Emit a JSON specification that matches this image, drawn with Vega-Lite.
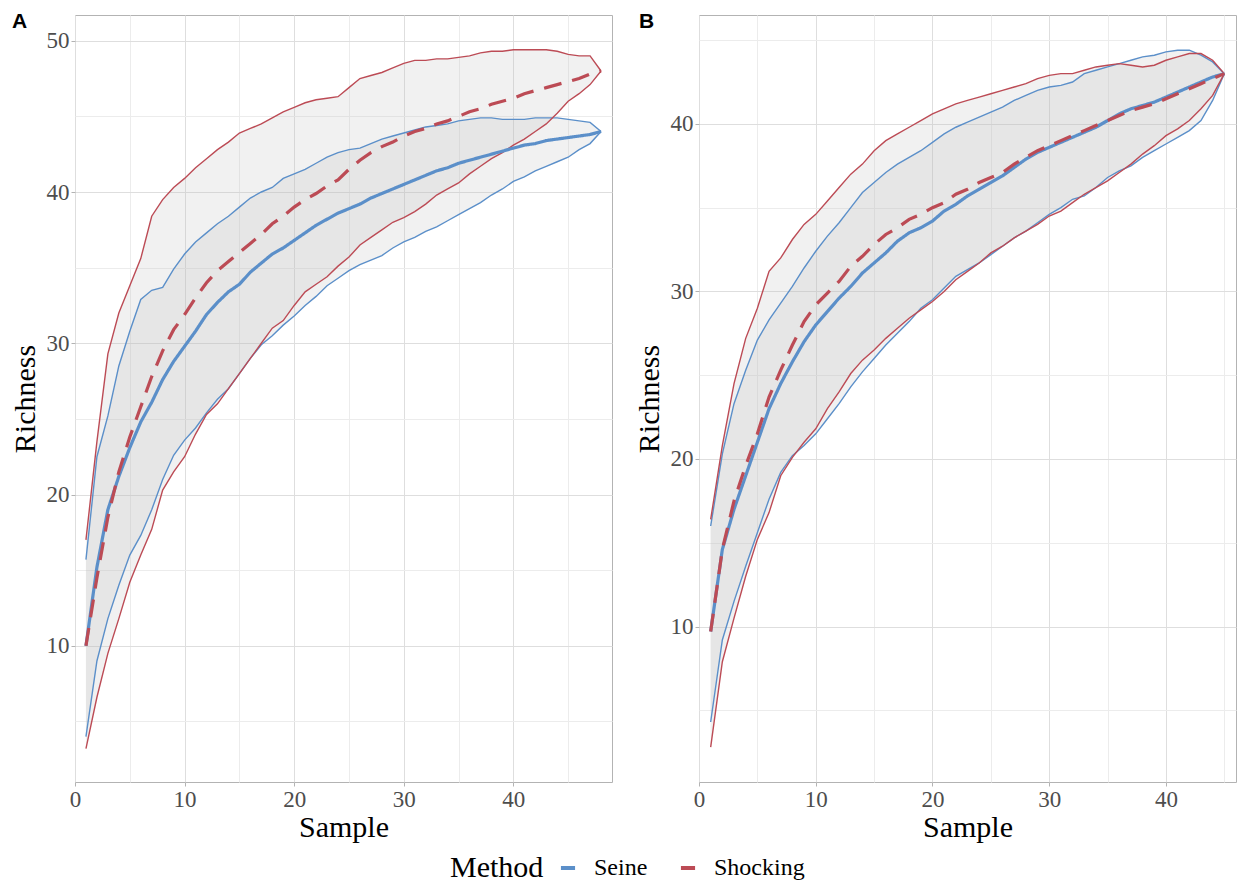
{
  "$schema": "https://vega.github.io/schema/vega-lite/v6.json",
  "background": "white",
  "padding": {"left": 9, "top": 10, "right": 2, "bottom": 0},
  "spacing": 20,
  "datasets": {
    "curves": [
      {"panel":"A","Method":"Seine","Sample":1,"mean":10.0,"lower":4.0,"upper":15.7},
      {"panel":"A","Method":"Seine","Sample":2,"mean":15.2,"lower":9.0,"upper":22.5},
      {"panel":"A","Method":"Seine","Sample":3,"mean":19.0,"lower":11.8,"upper":25.2},
      {"panel":"A","Method":"Seine","Sample":4,"mean":21.2,"lower":14.0,"upper":28.5},
      {"panel":"A","Method":"Seine","Sample":5,"mean":23.1,"lower":16.0,"upper":30.8},
      {"panel":"A","Method":"Seine","Sample":6,"mean":24.8,"lower":17.3,"upper":32.9},
      {"panel":"A","Method":"Seine","Sample":7,"mean":26.1,"lower":19.0,"upper":33.5},
      {"panel":"A","Method":"Seine","Sample":8,"mean":27.6,"lower":21.0,"upper":33.7},
      {"panel":"A","Method":"Seine","Sample":9,"mean":28.8,"lower":22.6,"upper":34.9},
      {"panel":"A","Method":"Seine","Sample":10,"mean":29.8,"lower":23.6,"upper":35.9},
      {"panel":"A","Method":"Seine","Sample":11,"mean":30.8,"lower":24.4,"upper":36.7},
      {"panel":"A","Method":"Seine","Sample":12,"mean":31.9,"lower":25.4,"upper":37.3},
      {"panel":"A","Method":"Seine","Sample":13,"mean":32.7,"lower":26.3,"upper":37.9},
      {"panel":"A","Method":"Seine","Sample":14,"mean":33.4,"lower":27.0,"upper":38.4},
      {"panel":"A","Method":"Seine","Sample":15,"mean":33.9,"lower":28.0,"upper":39.0},
      {"panel":"A","Method":"Seine","Sample":16,"mean":34.7,"lower":29.0,"upper":39.6},
      {"panel":"A","Method":"Seine","Sample":17,"mean":35.3,"lower":29.9,"upper":40.0},
      {"panel":"A","Method":"Seine","Sample":18,"mean":35.9,"lower":30.5,"upper":40.3},
      {"panel":"A","Method":"Seine","Sample":19,"mean":36.3,"lower":31.2,"upper":40.9},
      {"panel":"A","Method":"Seine","Sample":20,"mean":36.8,"lower":31.8,"upper":41.2},
      {"panel":"A","Method":"Seine","Sample":21,"mean":37.3,"lower":32.5,"upper":41.5},
      {"panel":"A","Method":"Seine","Sample":22,"mean":37.8,"lower":33.1,"upper":41.9},
      {"panel":"A","Method":"Seine","Sample":23,"mean":38.2,"lower":33.8,"upper":42.3},
      {"panel":"A","Method":"Seine","Sample":24,"mean":38.6,"lower":34.3,"upper":42.6},
      {"panel":"A","Method":"Seine","Sample":25,"mean":38.9,"lower":34.8,"upper":42.8},
      {"panel":"A","Method":"Seine","Sample":26,"mean":39.2,"lower":35.2,"upper":42.9},
      {"panel":"A","Method":"Seine","Sample":27,"mean":39.6,"lower":35.5,"upper":43.2},
      {"panel":"A","Method":"Seine","Sample":28,"mean":39.9,"lower":35.8,"upper":43.5},
      {"panel":"A","Method":"Seine","Sample":29,"mean":40.2,"lower":36.3,"upper":43.7},
      {"panel":"A","Method":"Seine","Sample":30,"mean":40.5,"lower":36.7,"upper":43.9},
      {"panel":"A","Method":"Seine","Sample":31,"mean":40.8,"lower":37.0,"upper":44.1},
      {"panel":"A","Method":"Seine","Sample":32,"mean":41.1,"lower":37.4,"upper":44.3},
      {"panel":"A","Method":"Seine","Sample":33,"mean":41.4,"lower":37.7,"upper":44.4},
      {"panel":"A","Method":"Seine","Sample":34,"mean":41.6,"lower":38.1,"upper":44.5},
      {"panel":"A","Method":"Seine","Sample":35,"mean":41.9,"lower":38.5,"upper":44.7},
      {"panel":"A","Method":"Seine","Sample":36,"mean":42.1,"lower":38.9,"upper":44.8},
      {"panel":"A","Method":"Seine","Sample":37,"mean":42.3,"lower":39.3,"upper":44.9},
      {"panel":"A","Method":"Seine","Sample":38,"mean":42.5,"lower":39.8,"upper":44.9},
      {"panel":"A","Method":"Seine","Sample":39,"mean":42.7,"lower":40.2,"upper":44.8},
      {"panel":"A","Method":"Seine","Sample":40,"mean":42.9,"lower":40.7,"upper":44.8},
      {"panel":"A","Method":"Seine","Sample":41,"mean":43.1,"lower":41.0,"upper":44.8},
      {"panel":"A","Method":"Seine","Sample":42,"mean":43.2,"lower":41.4,"upper":44.9},
      {"panel":"A","Method":"Seine","Sample":43,"mean":43.4,"lower":41.7,"upper":44.9},
      {"panel":"A","Method":"Seine","Sample":44,"mean":43.5,"lower":42.0,"upper":44.9},
      {"panel":"A","Method":"Seine","Sample":45,"mean":43.6,"lower":42.3,"upper":44.8},
      {"panel":"A","Method":"Seine","Sample":46,"mean":43.7,"lower":42.8,"upper":44.7},
      {"panel":"A","Method":"Seine","Sample":47,"mean":43.8,"lower":43.2,"upper":44.6},
      {"panel":"A","Method":"Seine","Sample":48,"mean":44.0,"lower":44.0,"upper":44.0},
      {"panel":"A","Method":"Shocking","Sample":1,"mean":10.0,"lower":3.2,"upper":17.0},
      {"panel":"A","Method":"Shocking","Sample":2,"mean":14.5,"lower":6.6,"upper":23.5},
      {"panel":"A","Method":"Shocking","Sample":3,"mean":18.5,"lower":9.5,"upper":29.3},
      {"panel":"A","Method":"Shocking","Sample":4,"mean":21.5,"lower":11.8,"upper":32.0},
      {"panel":"A","Method":"Shocking","Sample":5,"mean":23.8,"lower":14.2,"upper":33.8},
      {"panel":"A","Method":"Shocking","Sample":6,"mean":25.8,"lower":16.0,"upper":35.6},
      {"panel":"A","Method":"Shocking","Sample":7,"mean":27.8,"lower":17.7,"upper":38.4},
      {"panel":"A","Method":"Shocking","Sample":8,"mean":29.5,"lower":20.3,"upper":39.5},
      {"panel":"A","Method":"Shocking","Sample":9,"mean":30.9,"lower":21.5,"upper":40.3},
      {"panel":"A","Method":"Shocking","Sample":10,"mean":31.9,"lower":22.5,"upper":40.9},
      {"panel":"A","Method":"Shocking","Sample":11,"mean":33.0,"lower":24.0,"upper":41.6},
      {"panel":"A","Method":"Shocking","Sample":12,"mean":34.0,"lower":25.3,"upper":42.2},
      {"panel":"A","Method":"Shocking","Sample":13,"mean":34.8,"lower":26.0,"upper":42.8},
      {"panel":"A","Method":"Shocking","Sample":14,"mean":35.4,"lower":27.0,"upper":43.3},
      {"panel":"A","Method":"Shocking","Sample":15,"mean":36.0,"lower":28.0,"upper":43.9},
      {"panel":"A","Method":"Shocking","Sample":16,"mean":36.6,"lower":29.0,"upper":44.2},
      {"panel":"A","Method":"Shocking","Sample":17,"mean":37.2,"lower":30.0,"upper":44.5},
      {"panel":"A","Method":"Shocking","Sample":18,"mean":37.9,"lower":31.0,"upper":44.9},
      {"panel":"A","Method":"Shocking","Sample":19,"mean":38.4,"lower":31.5,"upper":45.3},
      {"panel":"A","Method":"Shocking","Sample":20,"mean":39.0,"lower":32.5,"upper":45.6},
      {"panel":"A","Method":"Shocking","Sample":21,"mean":39.5,"lower":33.4,"upper":45.9},
      {"panel":"A","Method":"Shocking","Sample":22,"mean":39.9,"lower":33.9,"upper":46.1},
      {"panel":"A","Method":"Shocking","Sample":23,"mean":40.4,"lower":34.4,"upper":46.2},
      {"panel":"A","Method":"Shocking","Sample":24,"mean":40.8,"lower":35.1,"upper":46.3},
      {"panel":"A","Method":"Shocking","Sample":25,"mean":41.5,"lower":35.7,"upper":46.9},
      {"panel":"A","Method":"Shocking","Sample":26,"mean":42.1,"lower":36.5,"upper":47.5},
      {"panel":"A","Method":"Shocking","Sample":27,"mean":42.6,"lower":37.0,"upper":47.7},
      {"panel":"A","Method":"Shocking","Sample":28,"mean":43.0,"lower":37.5,"upper":47.9},
      {"panel":"A","Method":"Shocking","Sample":29,"mean":43.3,"lower":38.0,"upper":48.2},
      {"panel":"A","Method":"Shocking","Sample":30,"mean":43.7,"lower":38.3,"upper":48.5},
      {"panel":"A","Method":"Shocking","Sample":31,"mean":44.0,"lower":38.7,"upper":48.7},
      {"panel":"A","Method":"Shocking","Sample":32,"mean":44.2,"lower":39.2,"upper":48.7},
      {"panel":"A","Method":"Shocking","Sample":33,"mean":44.5,"lower":39.8,"upper":48.8},
      {"panel":"A","Method":"Shocking","Sample":34,"mean":44.7,"lower":40.2,"upper":48.8},
      {"panel":"A","Method":"Shocking","Sample":35,"mean":45.0,"lower":40.6,"upper":48.9},
      {"panel":"A","Method":"Shocking","Sample":36,"mean":45.3,"lower":41.2,"upper":49.0},
      {"panel":"A","Method":"Shocking","Sample":37,"mean":45.5,"lower":41.7,"upper":49.2},
      {"panel":"A","Method":"Shocking","Sample":38,"mean":45.8,"lower":42.2,"upper":49.3},
      {"panel":"A","Method":"Shocking","Sample":39,"mean":46.0,"lower":42.6,"upper":49.3},
      {"panel":"A","Method":"Shocking","Sample":40,"mean":46.2,"lower":43.1,"upper":49.4},
      {"panel":"A","Method":"Shocking","Sample":41,"mean":46.5,"lower":43.5,"upper":49.4},
      {"panel":"A","Method":"Shocking","Sample":42,"mean":46.7,"lower":44.0,"upper":49.4},
      {"panel":"A","Method":"Shocking","Sample":43,"mean":46.9,"lower":44.5,"upper":49.4},
      {"panel":"A","Method":"Shocking","Sample":44,"mean":47.1,"lower":45.2,"upper":49.3},
      {"panel":"A","Method":"Shocking","Sample":45,"mean":47.3,"lower":46.0,"upper":49.1},
      {"panel":"A","Method":"Shocking","Sample":46,"mean":47.5,"lower":46.5,"upper":49.0},
      {"panel":"A","Method":"Shocking","Sample":47,"mean":47.8,"lower":47.1,"upper":49.0},
      {"panel":"A","Method":"Shocking","Sample":48,"mean":48.0,"lower":48.0,"upper":48.0},
      {"panel":"B","Method":"Seine","Sample":1,"mean":9.7,"lower":4.3,"upper":16.0},
      {"panel":"B","Method":"Seine","Sample":2,"mean":14.6,"lower":9.2,"upper":20.3},
      {"panel":"B","Method":"Seine","Sample":3,"mean":17.0,"lower":11.5,"upper":23.3},
      {"panel":"B","Method":"Seine","Sample":4,"mean":19.0,"lower":13.6,"upper":25.3},
      {"panel":"B","Method":"Seine","Sample":5,"mean":21.0,"lower":15.6,"upper":27.1},
      {"panel":"B","Method":"Seine","Sample":6,"mean":23.0,"lower":17.6,"upper":28.3},
      {"panel":"B","Method":"Seine","Sample":7,"mean":24.5,"lower":19.2,"upper":29.3},
      {"panel":"B","Method":"Seine","Sample":8,"mean":25.8,"lower":20.2,"upper":30.3},
      {"panel":"B","Method":"Seine","Sample":9,"mean":27.0,"lower":20.8,"upper":31.4},
      {"panel":"B","Method":"Seine","Sample":10,"mean":28.0,"lower":21.5,"upper":32.4},
      {"panel":"B","Method":"Seine","Sample":11,"mean":28.8,"lower":22.4,"upper":33.3},
      {"panel":"B","Method":"Seine","Sample":12,"mean":29.6,"lower":23.3,"upper":34.1},
      {"panel":"B","Method":"Seine","Sample":13,"mean":30.3,"lower":24.3,"upper":35.0},
      {"panel":"B","Method":"Seine","Sample":14,"mean":31.1,"lower":25.2,"upper":35.9},
      {"panel":"B","Method":"Seine","Sample":15,"mean":31.7,"lower":26.0,"upper":36.5},
      {"panel":"B","Method":"Seine","Sample":16,"mean":32.3,"lower":26.8,"upper":37.1},
      {"panel":"B","Method":"Seine","Sample":17,"mean":33.0,"lower":27.5,"upper":37.6},
      {"panel":"B","Method":"Seine","Sample":18,"mean":33.5,"lower":28.2,"upper":38.0},
      {"panel":"B","Method":"Seine","Sample":19,"mean":33.8,"lower":29.0,"upper":38.4},
      {"panel":"B","Method":"Seine","Sample":20,"mean":34.2,"lower":29.5,"upper":38.9},
      {"panel":"B","Method":"Seine","Sample":21,"mean":34.8,"lower":30.2,"upper":39.4},
      {"panel":"B","Method":"Seine","Sample":22,"mean":35.2,"lower":30.9,"upper":39.8},
      {"panel":"B","Method":"Seine","Sample":23,"mean":35.7,"lower":31.3,"upper":40.1},
      {"panel":"B","Method":"Seine","Sample":24,"mean":36.1,"lower":31.7,"upper":40.4},
      {"panel":"B","Method":"Seine","Sample":25,"mean":36.5,"lower":32.2,"upper":40.7},
      {"panel":"B","Method":"Seine","Sample":26,"mean":36.9,"lower":32.7,"upper":41.0},
      {"panel":"B","Method":"Seine","Sample":27,"mean":37.4,"lower":33.2,"upper":41.4},
      {"panel":"B","Method":"Seine","Sample":28,"mean":37.9,"lower":33.6,"upper":41.7},
      {"panel":"B","Method":"Seine","Sample":29,"mean":38.3,"lower":34.1,"upper":42.0},
      {"panel":"B","Method":"Seine","Sample":30,"mean":38.6,"lower":34.6,"upper":42.2},
      {"panel":"B","Method":"Seine","Sample":31,"mean":38.9,"lower":35.0,"upper":42.3},
      {"panel":"B","Method":"Seine","Sample":32,"mean":39.2,"lower":35.5,"upper":42.5},
      {"panel":"B","Method":"Seine","Sample":33,"mean":39.5,"lower":35.7,"upper":43.0},
      {"panel":"B","Method":"Seine","Sample":34,"mean":39.8,"lower":36.2,"upper":43.2},
      {"panel":"B","Method":"Seine","Sample":35,"mean":40.2,"lower":36.8,"upper":43.4},
      {"panel":"B","Method":"Seine","Sample":36,"mean":40.6,"lower":37.2,"upper":43.6},
      {"panel":"B","Method":"Seine","Sample":37,"mean":40.9,"lower":37.5,"upper":43.8},
      {"panel":"B","Method":"Seine","Sample":38,"mean":41.1,"lower":38.0,"upper":44.0},
      {"panel":"B","Method":"Seine","Sample":39,"mean":41.3,"lower":38.4,"upper":44.1},
      {"panel":"B","Method":"Seine","Sample":40,"mean":41.6,"lower":38.8,"upper":44.3},
      {"panel":"B","Method":"Seine","Sample":41,"mean":41.9,"lower":39.2,"upper":44.4},
      {"panel":"B","Method":"Seine","Sample":42,"mean":42.2,"lower":39.6,"upper":44.4},
      {"panel":"B","Method":"Seine","Sample":43,"mean":42.5,"lower":40.2,"upper":44.1},
      {"panel":"B","Method":"Seine","Sample":44,"mean":42.8,"lower":41.4,"upper":43.7},
      {"panel":"B","Method":"Seine","Sample":45,"mean":43.0,"lower":43.0,"upper":43.0},
      {"panel":"B","Method":"Shocking","Sample":1,"mean":9.7,"lower":2.8,"upper":16.4},
      {"panel":"B","Method":"Shocking","Sample":2,"mean":14.6,"lower":7.9,"upper":20.8},
      {"panel":"B","Method":"Shocking","Sample":3,"mean":17.5,"lower":10.5,"upper":24.5},
      {"panel":"B","Method":"Shocking","Sample":4,"mean":19.6,"lower":13.0,"upper":27.2},
      {"panel":"B","Method":"Shocking","Sample":5,"mean":21.5,"lower":15.2,"upper":29.0},
      {"panel":"B","Method":"Shocking","Sample":6,"mean":23.7,"lower":16.8,"upper":31.2},
      {"panel":"B","Method":"Shocking","Sample":7,"mean":25.3,"lower":19.0,"upper":32.0},
      {"panel":"B","Method":"Shocking","Sample":8,"mean":26.8,"lower":20.1,"upper":33.1},
      {"panel":"B","Method":"Shocking","Sample":9,"mean":28.2,"lower":21.0,"upper":34.0},
      {"panel":"B","Method":"Shocking","Sample":10,"mean":29.2,"lower":21.8,"upper":34.6},
      {"panel":"B","Method":"Shocking","Sample":11,"mean":29.9,"lower":23.0,"upper":35.4},
      {"panel":"B","Method":"Shocking","Sample":12,"mean":30.6,"lower":24.0,"upper":36.2},
      {"panel":"B","Method":"Shocking","Sample":13,"mean":31.5,"lower":25.1,"upper":37.0},
      {"panel":"B","Method":"Shocking","Sample":14,"mean":32.1,"lower":25.9,"upper":37.6},
      {"panel":"B","Method":"Shocking","Sample":15,"mean":32.8,"lower":26.5,"upper":38.4},
      {"panel":"B","Method":"Shocking","Sample":16,"mean":33.4,"lower":27.2,"upper":39.0},
      {"panel":"B","Method":"Shocking","Sample":17,"mean":33.8,"lower":27.8,"upper":39.4},
      {"panel":"B","Method":"Shocking","Sample":18,"mean":34.3,"lower":28.4,"upper":39.8},
      {"panel":"B","Method":"Shocking","Sample":19,"mean":34.6,"lower":28.9,"upper":40.2},
      {"panel":"B","Method":"Shocking","Sample":20,"mean":35.0,"lower":29.4,"upper":40.6},
      {"panel":"B","Method":"Shocking","Sample":21,"mean":35.3,"lower":30.0,"upper":40.9},
      {"panel":"B","Method":"Shocking","Sample":22,"mean":35.8,"lower":30.7,"upper":41.2},
      {"panel":"B","Method":"Shocking","Sample":23,"mean":36.1,"lower":31.2,"upper":41.4},
      {"panel":"B","Method":"Shocking","Sample":24,"mean":36.5,"lower":31.7,"upper":41.6},
      {"panel":"B","Method":"Shocking","Sample":25,"mean":36.8,"lower":32.3,"upper":41.8},
      {"panel":"B","Method":"Shocking","Sample":26,"mean":37.1,"lower":32.7,"upper":42.0},
      {"panel":"B","Method":"Shocking","Sample":27,"mean":37.6,"lower":33.2,"upper":42.2},
      {"panel":"B","Method":"Shocking","Sample":28,"mean":38.0,"lower":33.6,"upper":42.4},
      {"panel":"B","Method":"Shocking","Sample":29,"mean":38.4,"lower":34.0,"upper":42.7},
      {"panel":"B","Method":"Shocking","Sample":30,"mean":38.7,"lower":34.5,"upper":42.9},
      {"panel":"B","Method":"Shocking","Sample":31,"mean":39.0,"lower":34.8,"upper":43.0},
      {"panel":"B","Method":"Shocking","Sample":32,"mean":39.3,"lower":35.3,"upper":43.0},
      {"panel":"B","Method":"Shocking","Sample":33,"mean":39.6,"lower":35.8,"upper":43.2},
      {"panel":"B","Method":"Shocking","Sample":34,"mean":39.9,"lower":36.2,"upper":43.4},
      {"panel":"B","Method":"Shocking","Sample":35,"mean":40.2,"lower":36.6,"upper":43.5},
      {"panel":"B","Method":"Shocking","Sample":36,"mean":40.5,"lower":37.1,"upper":43.6},
      {"panel":"B","Method":"Shocking","Sample":37,"mean":40.8,"lower":37.6,"upper":43.5},
      {"panel":"B","Method":"Shocking","Sample":38,"mean":41.0,"lower":38.2,"upper":43.4},
      {"panel":"B","Method":"Shocking","Sample":39,"mean":41.2,"lower":38.7,"upper":43.5},
      {"panel":"B","Method":"Shocking","Sample":40,"mean":41.5,"lower":39.3,"upper":43.8},
      {"panel":"B","Method":"Shocking","Sample":41,"mean":41.8,"lower":39.7,"upper":44.0},
      {"panel":"B","Method":"Shocking","Sample":42,"mean":42.1,"lower":40.2,"upper":44.2},
      {"panel":"B","Method":"Shocking","Sample":43,"mean":42.4,"lower":40.9,"upper":44.2},
      {"panel":"B","Method":"Shocking","Sample":44,"mean":42.7,"lower":41.7,"upper":43.8},
      {"panel":"B","Method":"Shocking","Sample":45,"mean":43.0,"lower":43.0,"upper":43.0}
    ]
  },
  "hconcat": [
    {
      "width": 537,
      "height": 767,
      "title": {"text": "A", "anchor": "start", "frame": "bounds", "font": "Liberation Sans", "fontWeight": "bold", "fontSize": 21, "color": "black", "baseline": "alphabetic", "offset": -34, "dx": 2},
      "data": {"name": "curves"},
      "transform": [{"filter": "datum.panel === 'A'"}],
      "encoding": {
        "x": {"field": "Sample", "type": "quantitative", "scale": {"domain": [0, 49], "nice": false, "zero": false},
          "axis": {"title": "Sample", "values": [0,5,10,15,20,25,30,35,40,45], "labelExpr": "datum.value % 10 === 0 ? datum.label : ''",
            "gridColor": {"condition": {"test": "datum.value % 10 === 0", "value": "#dedede"}, "value": "#ececec"},
            "tickOpacity": {"condition": {"test": "datum.value % 10 === 0", "value": 1}, "value": 0}}}
      },
      "layer": [
        {"mark": {"type": "area", "color": "#bdbdbd", "opacity": 0.22},
         "encoding": {
           "y": {"field": "lower", "type": "quantitative", "scale": {"domain": [1.0, 51.7], "nice": false, "zero": false},
             "axis": {"title": "Richness", "values": [5,10,15,20,25,30,35,40,45,50], "labelExpr": "datum.value % 10 === 0 ? datum.label : ''",
               "gridColor": {"condition": {"test": "datum.value % 10 === 0", "value": "#dedede"}, "value": "#ececec"},
               "tickOpacity": {"condition": {"test": "datum.value % 10 === 0", "value": 1}, "value": 0}}},
           "y2": {"field": "upper"},
           "detail": {"field": "Method"}}},
        {"mark": {"type": "line", "strokeWidth": 1.4},
         "encoding": {"y": {"field": "upper", "type": "quantitative", "scale": {"domain": [1.0, 51.7], "nice": false, "zero": false}},
           "color": {"field": "Method", "type": "nominal", "scale": {"domain": ["Seine", "Shocking"], "range": ["#5B8FC9", "#BC4B55"]},
             "legend": {"title": "Method", "orient": "none", "legendX": 375, "legendY": 841}}}},
        {"mark": {"type": "line", "strokeWidth": 1.4},
         "encoding": {"y": {"field": "lower", "type": "quantitative", "scale": {"domain": [1.0, 51.7], "nice": false, "zero": false}},
           "color": {"field": "Method", "type": "nominal"}}},
        {"mark": {"type": "line", "strokeWidth": 3.2},
         "encoding": {"y": {"field": "mean", "type": "quantitative", "scale": {"domain": [1.0, 51.7], "nice": false, "zero": false}},
           "color": {"field": "Method", "type": "nominal"},
           "strokeDash": {"field": "Method", "type": "nominal", "scale": {"domain": ["Seine", "Shocking"], "range": [[1, 0], [18, 11]]}, "legend": null}}}
      ]
    },
    {
      "width": 537,
      "height": 767,
      "title": {"text": "B", "anchor": "start", "frame": "bounds", "font": "Liberation Sans", "fontWeight": "bold", "fontSize": 21, "color": "black", "baseline": "alphabetic", "offset": -34, "dx": 5},
      "data": {"name": "curves"},
      "transform": [{"filter": "datum.panel === 'B'"}],
      "encoding": {
        "x": {"field": "Sample", "type": "quantitative", "scale": {"domain": [0, 46], "nice": false, "zero": false},
          "axis": {"title": "Sample", "values": [0,5,10,15,20,25,30,35,40,45], "labelExpr": "datum.value % 10 === 0 ? datum.label : ''",
            "gridColor": {"condition": {"test": "datum.value % 10 === 0", "value": "#dedede"}, "value": "#ececec"},
            "tickOpacity": {"condition": {"test": "datum.value % 10 === 0", "value": 1}, "value": 0}}}
      },
      "layer": [
        {"mark": {"type": "area", "color": "#bdbdbd", "opacity": 0.22},
         "encoding": {
           "y": {"field": "lower", "type": "quantitative", "scale": {"domain": [0.72, 46.5], "nice": false, "zero": false},
             "axis": {"title": "Richness", "values": [5,10,15,20,25,30,35,40,45], "labelExpr": "datum.value % 10 === 0 ? datum.label : ''",
               "gridColor": {"condition": {"test": "datum.value % 10 === 0", "value": "#dedede"}, "value": "#ececec"},
               "tickOpacity": {"condition": {"test": "datum.value % 10 === 0", "value": 1}, "value": 0}}},
           "y2": {"field": "upper"},
           "detail": {"field": "Method"}}},
        {"mark": {"type": "line", "strokeWidth": 1.4},
         "encoding": {"y": {"field": "upper", "type": "quantitative", "scale": {"domain": [0.72, 46.5], "nice": false, "zero": false}},
           "color": {"field": "Method", "type": "nominal"}}},
        {"mark": {"type": "line", "strokeWidth": 1.4},
         "encoding": {"y": {"field": "lower", "type": "quantitative", "scale": {"domain": [0.72, 46.5], "nice": false, "zero": false}},
           "color": {"field": "Method", "type": "nominal"}}},
        {"mark": {"type": "line", "strokeWidth": 3.2},
         "encoding": {"y": {"field": "mean", "type": "quantitative", "scale": {"domain": [0.72, 46.5], "nice": false, "zero": false}},
           "color": {"field": "Method", "type": "nominal"},
           "strokeDash": {"field": "Method", "type": "nominal", "scale": {"domain": ["Seine", "Shocking"], "range": [[1, 0], [18, 11]]}, "legend": null}}}
      ]
    }
  ],
  "resolve": {"scale": {"color": "shared", "strokeDash": "shared"}},
  "config": {
    "view": {"stroke": "#b3b3b3", "strokeWidth": 1},
    "axis": {
      "domain": false,
      "tickColor": "#b3b3b3",
      "tickSize": 4,
      "gridWidth": 1,
      "labelFont": "Liberation Serif",
      "labelFontSize": 23,
      "labelColor": "#4d4d4d",
      "labelPadding": 2,
      "titleFont": "Liberation Serif",
      "titleFontSize": 30,
      "titleFontWeight": "normal",
      "titleColor": "black"
    },
    "axisX": {"titlePadding": 1, "labelFlush": false},
    "axisY": {"titlePadding": 6},
    "legend": {
      "direction": "horizontal",
      "titleOrient": "left",
      "titleFont": "Liberation Serif",
      "titleFontSize": 30,
      "titleFontWeight": "normal",
      "titleColor": "black",
      "titleBaseline": "middle",
      "titlePadding": 12,
      "labelFont": "Liberation Serif",
      "labelFontSize": 24,
      "labelColor": "black",
      "labelOffset": 14,
      "symbolType": "stroke",
      "symbolStrokeWidth": 4,
      "symbolSize": 200,
      "columnPadding": 24
    }
  }
}
